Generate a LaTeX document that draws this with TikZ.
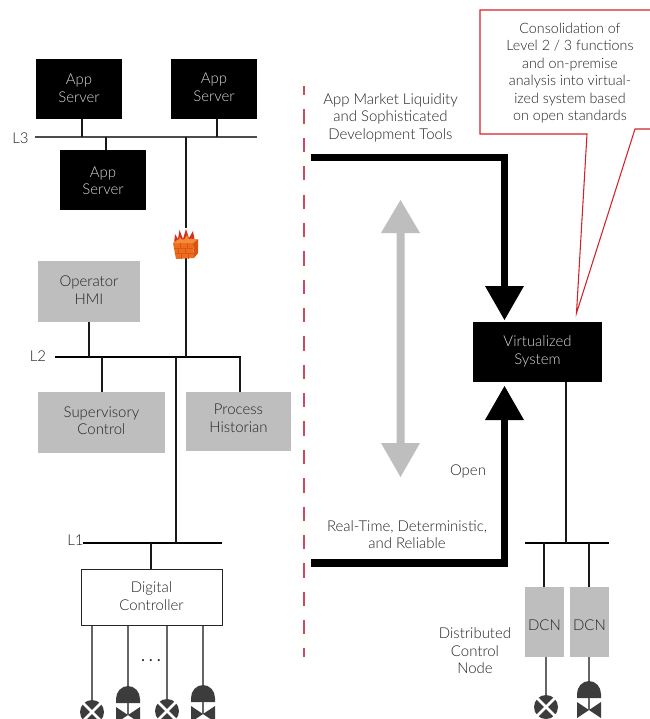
\documentclass[tikz,border=0pt]{standalone}
\usepackage{fontspec}
\setmainfont{Lato}[UprightFont=* Light]
\definecolor{txt}{HTML}{222222}
\definecolor{boxgray}{HTML}{BEBEBE}
\definecolor{valvegray}{HTML}{3C3C3C}
\definecolor{stemgray}{HTML}{666666}
\definecolor{callred}{HTML}{D2232A}
\definecolor{dashred}{HTML}{CE4A5A}
\definecolor{brickfront}{HTML}{EE6C1E}
\definecolor{brickside}{HTML}{D9560F}
\definecolor{bricktop}{HTML}{F58C3C}
\definecolor{brickline}{HTML}{D9561A}
\definecolor{flamered}{HTML}{D5301E}
\definecolor{flameorange}{HTML}{F08A2A}
\tikzset{
  txtfont/.style={font=\fontsize{11.2pt}{13.1pt}\selectfont},
  lbl/.style={txtfont, text=txt, align=center, inner sep=0pt},
  darktxt/.style={txtfont, text=boxgray!60!white, align=center, inner sep=0pt},
  graytxt/.style={txtfont, text=txt, align=center, inner sep=0pt},
  darkbox/.style={fill=black, draw=none, inner sep=0pt},
  graybox/.style={fill=boxgray, draw=none, inner sep=0pt},
  whitebox/.style={fill=white, draw=black!85, line width=0.75pt, inner sep=0pt},
  bus/.style={line width=1.1pt, draw=black},
  wire/.style={line width=1.1pt, draw=black!90},
  stem/.style={line width=1.5pt, draw=stemgray},
  fat/.style={line width=5.7pt, draw=black, line join=miter},
  ballvalve/.pic={
    \fill[valvegray] (0,0) circle (12);
    \draw[white, line width=1.9pt] (-9,-9) -- (9,9) (-9,9) -- (9,-9);
  },
  actvalve/.pic={
    \fill[valvegray] (-12,3) -- (-12,-1) arc[start angle=180, end angle=0, x radius=12, y radius=-13] -- (12,3) -- cycle;
    \draw[stemgray, line width=1pt] (0,3) -- (0,15);
    \fill[valvegray] (-12,7) -- (0,15) -- (-12,23) -- cycle;
    \fill[valvegray] (12,7) -- (0,15) -- (12,23) -- cycle;
  }
}
\begin{document}
\begin{tikzpicture}[x=0.75pt,y=-0.75pt]
\clip (0,0) rectangle (650,719);
\fill[white] (0,0) rectangle (650,719);

% boxes
\node[darkbox, minimum width=64.5pt, minimum height=45pt, label={[darktxt, yshift=0.6pt]center:{App\\Server}}] (srvA) at (79,89) {};
\node[darkbox, minimum width=64.5pt, minimum height=45pt, label={[darktxt, yshift=1.4pt]center:{App\\Server}}] (srvB) at (214,89) {};
\node[darkbox, minimum width=64.5pt, minimum height=45pt, label={[darktxt, yshift=-0.6pt]center:{App\\Server}}] (srvC) at (103,180) {};
\node[graybox, minimum width=76.5pt, minimum height=45.75pt, label={[graytxt, yshift=1.0pt]center:{Operator\\HMI}}] (hmi) at (89,291.5) {};
\node[graybox, minimum width=95.25pt, minimum height=45.75pt, label={[graytxt, yshift=1.4pt]center:{Supervisory\\Control}}] (sup) at (101.5,422.5) {};
\node[graybox, minimum width=78.75pt, minimum height=44.25pt, label={[graytxt, yshift=2.4pt]center:{Process\\Historian}}] (hist) at (238.5,421.5) {};
\node[whitebox, minimum width=105.75pt, minimum height=42pt, label={[graytxt, yshift=0.6pt]center:{Digital\\Controller}}] (ctrl) at (151.5,597) {};
\node[darkbox, minimum width=96.75pt, minimum height=45pt, label={[darktxt, yshift=0.6pt]center:{Virtualized\\System}}] (virt) at (537.5,352) {};
\node[graybox, minimum width=29.25pt, minimum height=52.5pt, label={[graytxt, yshift=-2.2pt]center:{DCN}}] (dcnA) at (544.5,622) {};
\node[graybox, minimum width=29.25pt, minimum height=52.5pt, label={[graytxt, yshift=-2.2pt]center:{DCN}}] (dcnB) at (589.5,622) {};

% labels
\node[lbl] (l3) at (20.5,138) {L3};
\node[lbl] (l2) at (38,356.5) {L2};
\node[lbl] (l1) at (75.5,540) {L1};
\node[lbl] (dots) at (151,661) {\textbf{.\hspace{3.2pt}.\hspace{3.2pt}.}};
\node[lbl] (top) at (390.5,117.5) {App Market Liquidity\\and Sophisticated\\Development Tools};
\node[lbl] (open) at (468,471.5) {Open};
\node[lbl] (rt) at (407,534.5) {Real-Time, Deterministic,\\and Reliable};
\node[lbl] (dcnl) at (475,651) {Distributed\\Control\\Node};

% buses
\coordinate (b3l) at (35,137); \coordinate (b3r) at (257,137);
\coordinate (b2l) at (55,357); \coordinate (b2r) at (240.5,357);
\coordinate (b1l) at (83,543); \coordinate (b1r) at (222,543);
\coordinate (b0l) at (525,543); \coordinate (b0r) at (609,543);
\draw[bus, draw=black!70, line width=1.4pt] (b3l) -- (b3r);
\draw[bus] (b2l) -- (b2r);
\draw[bus] (b1l) -- (b1r);
\draw[bus] (b0l) -- (b0r);

% stems to buses
\draw[wire] (82,119) coordinate (sa) -- (sa|-b3l);
\draw[wire] (217,119) coordinate (sb) -- (sb|-b3l);
\draw[wire] (106,150) coordinate (sc) -- (sc|-b3l);
\coordinate (fwtop) at (186,137);
\draw[wire] (fwtop) -- (fwtop|-b2l);
\draw[wire] (hmi.south) -- (hmi.south|-b2l);
\draw[wire] (102,392) coordinate (ss) -- (ss|-b2l);
\draw[wire] (240,392) coordinate (sh) -- (sh|-b2l);
\coordinate (dn) at (176,357);
\draw[wire] (dn) -- (dn|-b1l);
\draw[wire] (151,569) coordinate (sk) -- (sk|-b1l);
\draw[wire] (566,382) coordinate (sv) -- (sv|-b0l);
\draw[wire] (544,587) coordinate (sd) -- (sd|-b0l);
\draw[wire] (589,587) coordinate (se) -- (se|-b0l);

% field stems and valves
\coordinate (v1) at (92,712);
\coordinate (v2) at (128,700);
\coordinate (v3) at (167,711);
\coordinate (v4) at (203,699);
\coordinate (v5) at (546,707);
\coordinate (v6) at (589,695);
\draw[stem] (v1|-ctrl.south) -- (v1);
\draw[stem] (v2|-ctrl.south) -- (v2);
\draw[stem] (v3|-ctrl.south) -- (v3);
\draw[stem] (v4|-ctrl.south) -- (v4);
\draw[stem] (v5|-dcnA.south) -- (v5);
\draw[stem] (v6|-dcnB.south) -- (v6);
\pic at (v1) {ballvalve};
\pic at (v2) {actvalve};
\pic at (v3) {ballvalve};
\pic at (v4) {actvalve};
\pic at (v5) {ballvalve};
\pic at (v6) {actvalve};

% dashed divider
\coordinate (da) at (304,86); \coordinate (db) at (304,657);
\draw[dashred, line width=0.9pt, dash pattern=on 10.7pt off 10.58pt, dash phase=3.75pt] (da) -- (db);

% grey double arrow
\coordinate (gt) at (400.5,200); \coordinate (gb) at (400.5,477);
\fill[boxgray] (gt) -- (420,233) -- (404.5,233) -- (404.5,443) -- (420,443) -- (gb) -- (381,443) -- (396.5,443) -- (396.5,233) -- (381,233) -- cycle;

% thick black connectors
\coordinate (ta) at (311,157.5); \coordinate (tb) at (504.5,157.5); \coordinate (tc) at (504.5,290);
\draw[fat] (ta) -- (tb) -- (tc);
\fill[black] (485,286) -- (524,286) -- (504.5,320) -- cycle;
\coordinate (ua) at (311,563.2); \coordinate (ub) at (504.5,563.2); \coordinate (uc) at (504.5,416);
\draw[fat] (ua) -- (ub) -- (uc);
\fill[black] (485,420) -- (524,420) -- (504.5,386) -- cycle;

% callout
\draw[callred, line width=0.8pt, line join=miter] (650,10) -- (480,10) -- (480,134) -- (587,134) -- (576.5,313) -- (635,129) -- (650,129);
\node[lbl, font=\fontsize{10.7pt}{13.1pt}\selectfont] (call) at (570,73) {Consolidation of\\Level 2 / 3 functions\\and on-premise\\analysis into virtual-\\ized system based\\on open standards};

% firewall
\fill[white] (170,228) rectangle (201,258);
\fill[flamered] (174,244) -- (175,234) -- (178,239) -- (179.5,230) -- (183,239) -- (186,229) -- (189,238) -- (193,231) -- (195,242) -- cycle;
\fill[flameorange] (177,244) -- (180,237) -- (183,242) -- (187,235) -- (190,241) -- (192,238) -- (193,243) -- cycle;
\fill[brickfront] (173,243) -- (193,243) -- (194,258) -- (176,259) -- cycle;
\fill[brickside] (193,243) -- (198,239) -- (198,253) -- (194,258) -- cycle;
\fill[bricktop] (173,243) -- (178,239.5) -- (198,239) -- (193,243) -- cycle;
\draw[brickline, line width=0.25pt] (174,248) -- (193,248) (175,253) -- (194,253) (180,243) -- (180,248) (187,243) -- (187,248) (178,248) -- (178,253) (185,248) -- (185,253) (181,253) -- (181,258.5) (188,253) -- (188,258.5);
\end{tikzpicture}
\end{document}
